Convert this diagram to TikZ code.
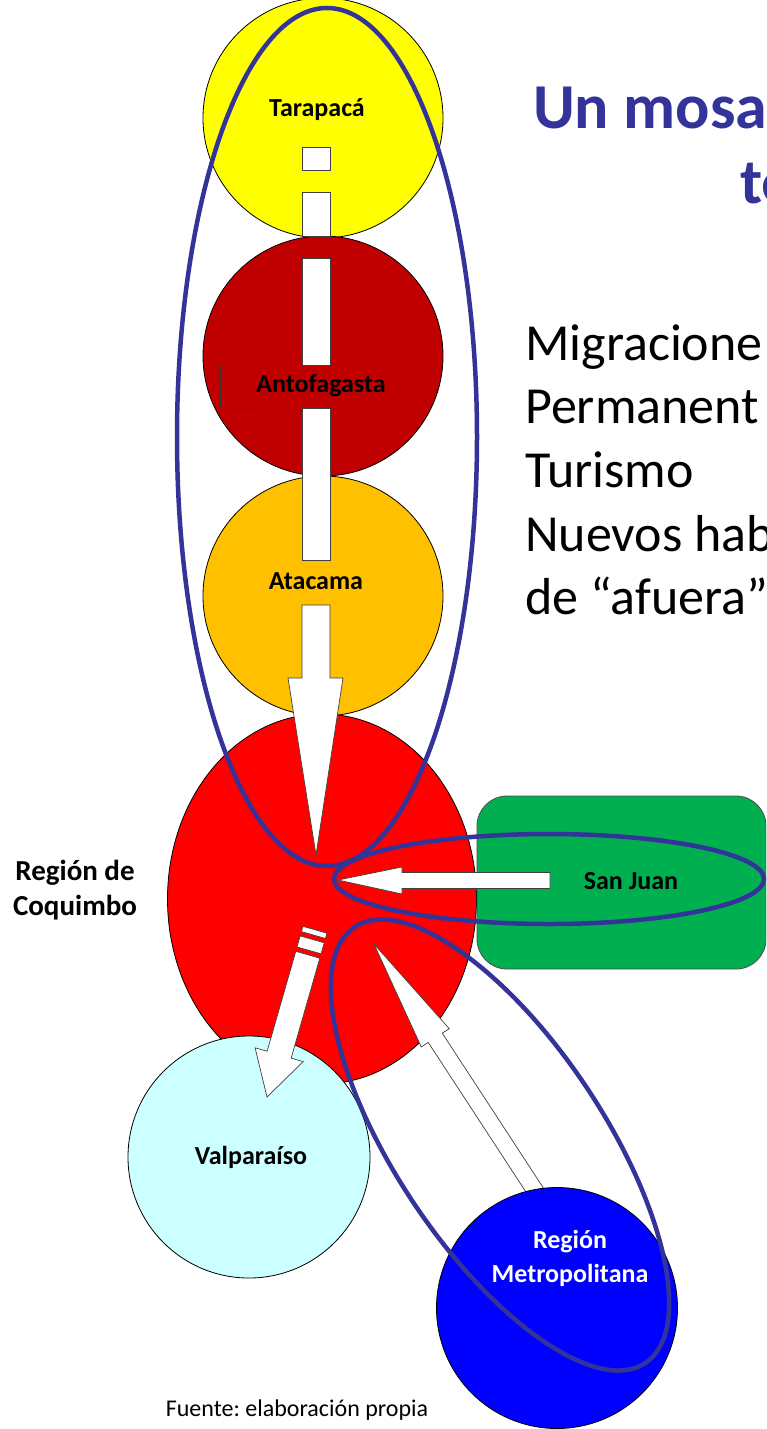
\documentclass[tikz,border=0pt]{standalone}
\usepackage{fontspec}
\setmainfont{Carlito}
\frenchspacing
\usetikzlibrary{shapes.geometric}
\definecolor{ringblue}{HTML}{333399}
\definecolor{tarcol}{HTML}{FFFF00}
\definecolor{antcol}{HTML}{C00000}
\definecolor{atacol}{HTML}{FFC000}
\definecolor{coqcol}{HTML}{FF0000}
\definecolor{sjcol}{HTML}{00B050}
\definecolor{valcol}{HTML}{CCFFFF}
\definecolor{rmcol}{HTML}{0000FF}
\tikzset{
  region/.style={draw=black, line width=0.8pt, inner sep=0pt, outer sep=0pt},
  roundregion/.style={region, circle, minimum size=240pt},
  blockarrow/.style={fill=white, draw=black!75, line width=0.7pt, line join=miter},
  ring/.style={draw=ringblue, line width=4.5pt},
  lbl/.style={font=\fontsize{26}{34}\selectfont\bfseries, align=center, inner sep=0pt},
  bigtext/.style={font=\fontsize{52}{63}\selectfont, anchor=base west, inner sep=0pt},
  titletext/.style={font=\fontsize{64}{75}\selectfont\bfseries, text=ringblue, anchor=base west, inner sep=0pt},
  artifact/.style={draw=black!80, line width=0.7pt}
}
\begin{document}
\begin{tikzpicture}[x=1pt,y=-1pt]
\useasboundingbox (0,0) rectangle (766,1429);
\clip (0,0) rectangle (766,1429);

% regions
\node[roundregion, fill=tarcol] (tar) at (323,118) {};
\node[roundregion, fill=antcol] (ant) at (323,356) {};
\node[roundregion, fill=atacol] (ata) at (323,596) {};
\node[region, ellipse, fill=coqcol, minimum width=309pt, minimum height=370pt] (coq) at (322,899) {};
\node[region, rectangle, rounded corners=30pt, fill=sjcol, draw=black!70, minimum width=289pt, minimum height=173pt] (sj) at (621.5,882.5) {};
\node[roundregion, fill=valcol, minimum size=242pt] (val) at (249,1157) {};

% vertical arrow Tarapaca -> Coquimbo
\path[blockarrow] (302,147) rectangle (330,170);
\path[blockarrow] (302,192) rectangle (330,236);
\path[blockarrow] (302,258) rectangle (330,365);
\path[blockarrow] (302,408) rectangle (330,560);
\path[blockarrow] (302,605) -- (302,678) -- (288,678) -- (316,855) -- (343,678) -- (330,678) -- (330,605) -- cycle;

% San Juan -> Coquimbo
\path[blockarrow] (550,872.5) -- (402,872.5) -- (402,867) -- (338,880) -- (402,894) -- (402,888.5) -- (550,888.5) -- cycle;

% Coquimbo -> Valparaiso
\begin{scope}[shift={(267,1097)}, rotate=-106]
  \path[blockarrow] (0,0) -- (-44,25) -- (-44,12.5) -- (-148,12.5) -- (-148,-12.5) -- (-44,-12.5) -- (-44,-25) -- cycle;
  \path[blockarrow] (-152.5,12.5) rectangle (-164,-12.5);
  \path[blockarrow] (-168.5,12.5) rectangle (-174,-12.5);
\end{scope}

% Metropolitana -> Coquimbo
\begin{scope}[shift={(374,944)}, rotate=123.15]
  \path[blockarrow] (0,0) -- (-112,16.7) -- (-112,8.4) -- (-300,8.4) -- (-300,-8.4) -- (-112,-8.4) -- (-112,-16.7) -- cycle;
\end{scope}

\node[roundregion, fill=rmcol, minimum size=241pt] (rm) at (557,1308) {};

% labels
\node[lbl] (tarlbl) at (317,110) {Tarapacá};
\node[lbl] (antlbl) at (321,386) {Antofagasta};
\node[lbl] (atalbl) at (316,581) {Atacama};
\node[lbl, font=\fontsize{29}{35}\selectfont\bfseries] (coqlbl) at (75,890) {Región de\\Coquimbo};
\node[lbl] (sjlbl) at (631,881) {San Juan};
\node[lbl] (vallbl) at (251,1157) {Valparaíso};
\node[lbl, text=white] (rmlbl) at (570,1258) {Región\\Metropolitana};
\node[font=\fontsize{24}{29}\selectfont, inner sep=0pt] (fuente) at (297,1410) {Fuente: elaboración propia};

% small stray lines near Antofagasta label
\draw[artifact] (220,365) -- (220,407);
\draw[artifact] (233,409) -- (261,409);

% title and text
\node[titletext] (title1) at (533,128) {Un mosa};
\node[titletext] (title2) at (740,203) {te};
\node[bigtext] (t1) at (525,360) {Migracione};
\node[bigtext] (t2) at (525,423) {Permanent};
\node[bigtext] (t3) at (525,487) {Turismo};
\node[bigtext] (t4) at (525,551) {Nuevos hab};
\node[bigtext] (t5) at (525,614) {de “afuera”};

% blue rings
\draw[ring] (327,437) ellipse [x radius=150, y radius=429];
\draw[ring] (549,879) ellipse [x radius=215, y radius=45];
\draw[ring, rotate around={-56.3:(500,1145)}] (500,1145) ellipse [x radius=262, y radius=104];
\end{tikzpicture}
\end{document}
